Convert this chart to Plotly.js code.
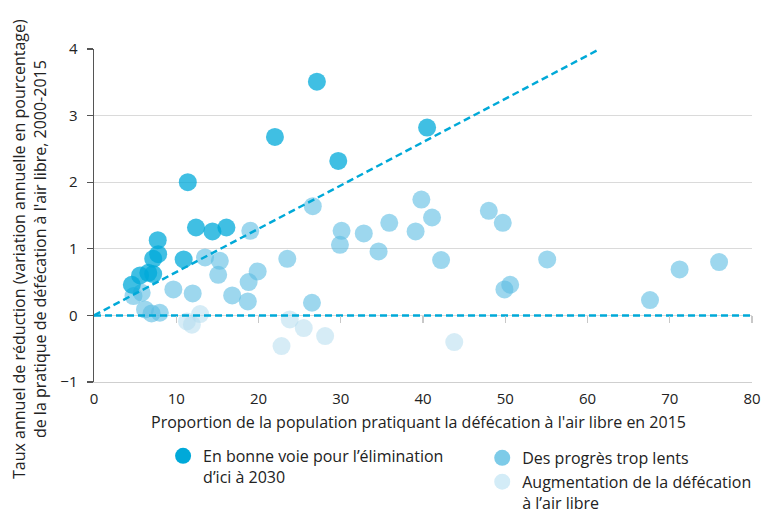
<!DOCTYPE html>
<html>
<head>
<meta charset="utf-8">
<script src="https://cdn.plot.ly/plotly-3.0.1.min.js"></script>
<style>html,body{margin:0;padding:0;background:#fff;}#chart{width:771px;height:517px;}</style>
</head>
<body>
<div id="chart"></div>
<script>
// Series 1: "En bonne voie pour l'élimination d'ici à 2030"
const onTrackX = [27.1, 22.0, 40.5, 29.7, 11.4, 12.4, 14.4, 16.1, 10.9, 7.75, 7.8, 7.2, 6.6, 5.6, 7.2, 4.6];
const onTrackY = [3.51, 2.68, 2.82, 2.32, 2.00, 1.32, 1.26, 1.32, 0.84, 1.13, 0.92, 0.85, 0.64, 0.60, 0.62, 0.46];
// Series 2: "Des progrès trop lents"
const slowX = [26.6, 39.8, 41.1, 35.9, 32.8, 39.1, 30.1, 29.9, 34.6, 42.2, 23.5, 26.5, 48.0, 49.7, 49.9, 50.6, 55.1, 67.6, 71.2, 76.0, 19.0, 13.5, 15.3, 15.1, 9.65, 12.0, 16.8, 18.8, 19.9, 18.7, 4.8, 5.8, 6.2, 7.0, 8.0];
const slowY = [1.64, 1.74, 1.47, 1.39, 1.23, 1.26, 1.27, 1.06, 0.96, 0.83, 0.85, 0.19, 1.57, 1.39, 0.39, 0.46, 0.84, 0.23, 0.69, 0.80, 1.27, 0.87, 0.82, 0.61, 0.39, 0.33, 0.30, 0.50, 0.66, 0.21, 0.29, 0.34, 0.09, 0.03, 0.04];
// Series 3: "Augmentation de la défécation à l'air libre"
const increaseX = [11.3, 11.9, 12.9, 23.8, 25.5, 28.1, 22.8, 43.8];
const increaseY = [-0.09, -0.14, 0.02, -0.06, -0.19, -0.31, -0.46, -0.40];
// Reference lines
const targetLineX = [0, 61.5];
const targetLineY = [0, 4];
const zeroLineX = [0, 80];
const zeroLineY = [0, 0];
// Labels
const seriesNames = ["En bonne voie pour l’élimination<br>d’ici à 2030", "Des progrès trop lents", "Augmentation de la défécation<br>à l’air libre"];
const xTickVals = [0, 10, 20, 30, 40, 50, 60, 70, 80];
const yTickVals = [-1, 0, 1, 2, 3, 4];
const xTitle = "Proportion de la population pratiquant la défécation à l'air libre en 2015";
const yTitle = "Taux annuel de réduction (variation annuelle en pourcentage)<br>de la pratique de défécation à l'air libre, 2000-2015";

const FONT = "'Open Sans', 'Noto Sans', sans-serif";
const TXT = "#222";
const lineColor = "#00a9d8";
const mk = (c, o) => ({size: 18, color: c, opacity: o, line: {width: 0}});

const traces = [
  {x: increaseX, y: increaseY, type: "scatter", mode: "markers", marker: mk("#b4dcee", 0.55), showlegend: false, hoverinfo: "x+y"},
  {x: slowX, y: slowY, type: "scatter", mode: "markers", marker: mk("#5cbde2", 0.6), showlegend: false, hoverinfo: "x+y"},
  {x: onTrackX, y: onTrackY, type: "scatter", mode: "markers", marker: mk("#00aad9", 0.75), showlegend: false, hoverinfo: "x+y"},
  {x: targetLineX, y: targetLineY, type: "scatter", mode: "lines", line: {color: lineColor, width: 2.5, dash: "7px,4px"}, showlegend: false, hoverinfo: "skip"},
  {x: zeroLineX, y: zeroLineY, xaxis: "x2", type: "scatter", mode: "lines", line: {color: lineColor, width: 2.5, dash: "7px,4px"}, showlegend: false, hoverinfo: "skip"},
  // legend entries
  {x: [null], y: [null], type: "scatter", mode: "markers", name: seriesNames[0], marker: {size: 16, color: "#00a9d9"}, legend: "legend"},
  {x: [null], y: [null], type: "scatter", mode: "markers", name: seriesNames[1], marker: {size: 16, color: "#7dcbe8"}, legend: "legend2"},
  {x: [null], y: [null], type: "scatter", mode: "markers", name: seriesNames[2], marker: {size: 16, color: "#d3ecf7"}, legend: "legend2"}
];

const layout = {
  width: 771, height: 517,
  margin: {l: 94, r: 19, t: 49, b: 135, autoexpand: false},
  paper_bgcolor: "#fff", plot_bgcolor: "#fff",
  font: {family: FONT, size: 16, color: TXT},
  showlegend: true,
  xaxis: {
    range: [0, 80], tickvals: xTickVals, ticks: "outside", ticklen: 3, tickcolor: "rgba(0,0,0,0)",
    showgrid: false, zeroline: false,
    showline: true, linecolor: "#cfcfcf", linewidth: 1.2,
    tickfont: {size: 15, color: TXT}, fixedrange: true
  },
  xaxis2: {
    overlaying: "x", anchor: "free", position: 0.2, range: [0, 80], tickvals: [10, 20, 30, 40, 50, 60, 70, 80],
    ticks: "outside", ticklen: 7, tickcolor: "#c8c8c8", tickwidth: 1.2, showticklabels: false,
    showgrid: false, zeroline: false, showline: false, fixedrange: true
  },
  yaxis: {
    range: [-1, 4], tickvals: yTickVals, showgrid: true, gridcolor: "#dadada", gridwidth: 1.2,
    zeroline: false, showline: true, linecolor: "#555", linewidth: 1.5,
    ticks: "outside", ticklen: 6, tickcolor: "#555", tickwidth: 1.2, ticklabelstandoff: 6,
    tickfont: {size: 15, color: TXT}, fixedrange: true
  },
  legend: {
    x: 0.105, y: -0.171, xanchor: "left", yanchor: "top", orientation: "v",
    valign: "top", font: {size: 16, color: TXT}, bgcolor: "rgba(0,0,0,0)", itemclick: false
  },
  legend2: {
    x: 0.59, y: -0.177, xanchor: "left", yanchor: "top", orientation: "v",
    valign: "top", font: {size: 16, color: TXT}, bgcolor: "rgba(0,0,0,0)", itemclick: false
  },
  annotations: [
    {text: xTitle, xref: "paper", yref: "paper", x: 0.493, y: -0.12, xanchor: "center", yanchor: "middle", showarrow: false, font: {size: 16, color: TXT}},
    {text: yTitle, xref: "paper", yref: "paper", x: -0.097, y: 0.40, xanchor: "center", yanchor: "middle", textangle: -90, showarrow: false, font: {size: 16, color: TXT}}
  ]
};

Plotly.newPlot("chart", traces, layout, {displayModeBar: false, staticPlot: true});
</script>
</body>
</html>
